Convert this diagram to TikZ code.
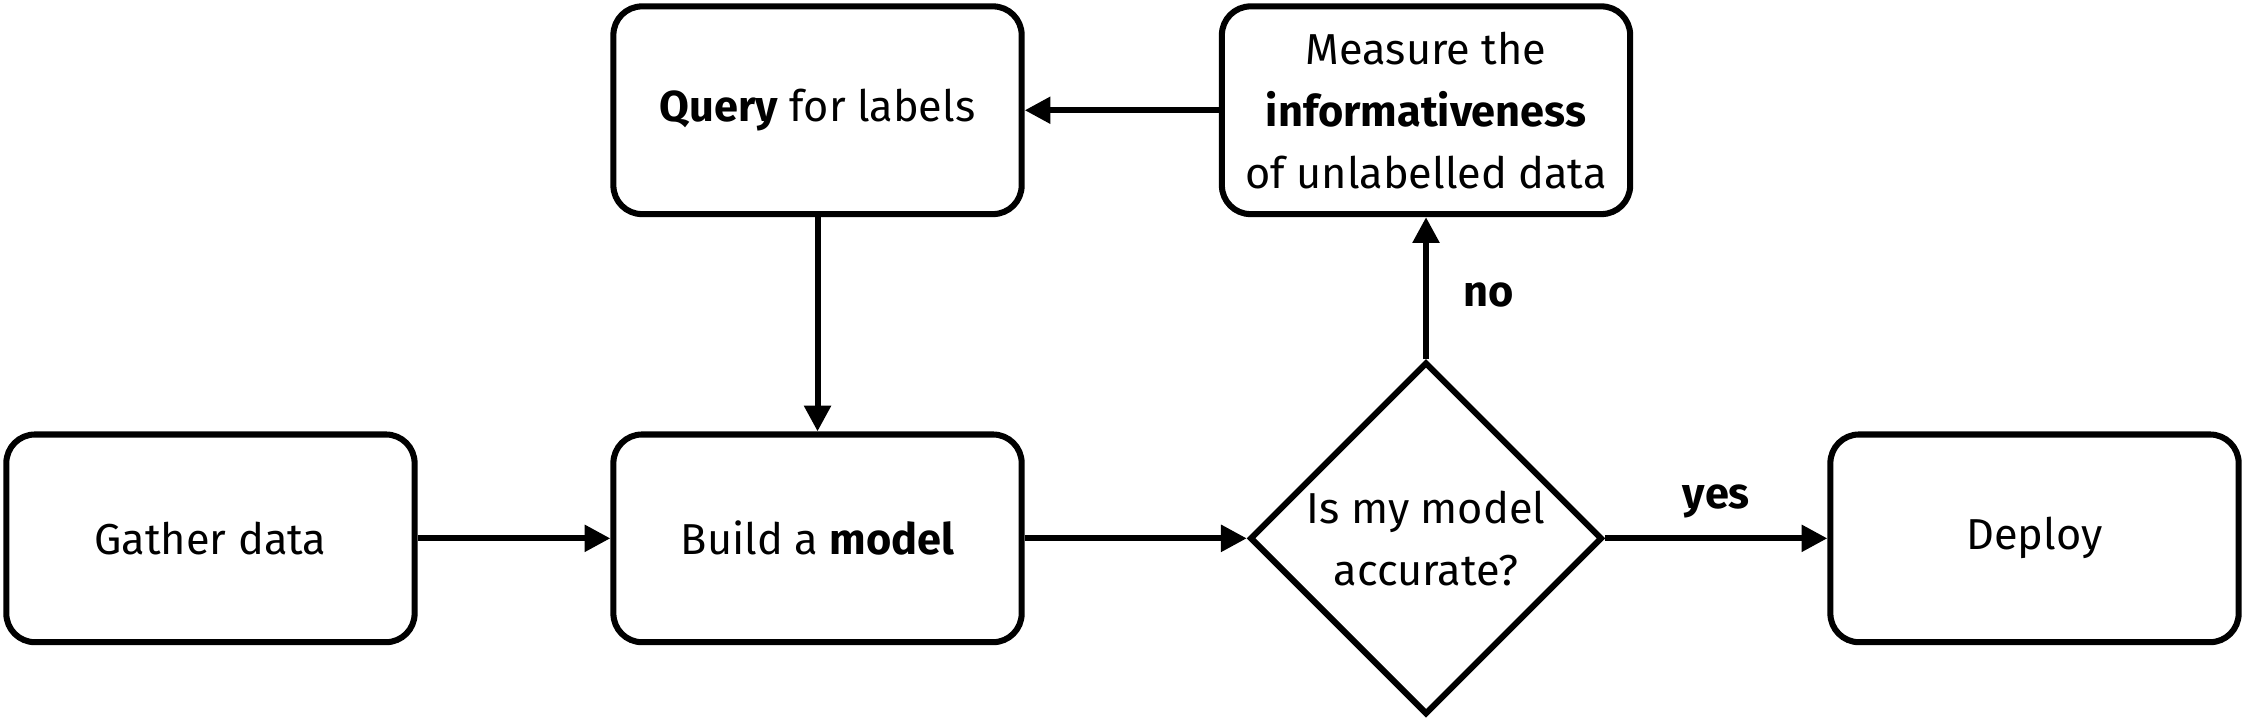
\documentclass[tikz,border=0pt]{standalone}
\usepackage{fontspec}
\setmainfont{Fira Sans}
\usetikzlibrary{shapes.geometric,arrows.meta}
\begin{document}
\begin{tikzpicture}[x=0.01cm,y=-0.01cm,
  box/.style={draw,line width=1.2pt,rounded corners=0.2cm,minimum width=2.85cm,minimum height=1.45cm,align=center,font=\fontsize{8.6}{12.3}\selectfont},
  dia/.style={draw,line width=1.2pt,diamond,minimum width=2.46cm,minimum height=2.46cm,inner sep=0pt,align=center,font=\fontsize{8.6}{12.3}\selectfont},
  arr/.style={line width=1.2pt,-{Triangle[length=0.18cm,width=0.18cm]}},
  lab/.style={font=\fontsize{8.6}{12.3}\selectfont\bfseries}]
\useasboundingbox (0,0) rectangle (1568,503);
\node[box] (gather) at (147,376) {Gather data};
\node[box] (build) at (571,376) {Build a \textbf{model}};
\node[box] (query) at (571,77) {\textbf{Query} for labels};
\node[box] (measure) at (996,77) {Measure the\\\textbf{informativeness}\\of unlabelled data};
\node[box] (deploy) at (1421,376) {Deploy};
\node[dia] (acc) at (996,376) {Is my model\\accurate?};
\draw[arr] (gather) -- (build);
\draw[arr] (build) -- (acc);
\draw[arr] (acc) -- node[lab,above,pos=0.5]{yes} (deploy);
\draw[arr] (acc.north) -- node[lab,right,xshift=0.12cm,pos=0.45]{no} (measure);
\draw[arr] (measure) -- (query);
\draw[arr] (query) -- (build);
\end{tikzpicture}
\end{document}
